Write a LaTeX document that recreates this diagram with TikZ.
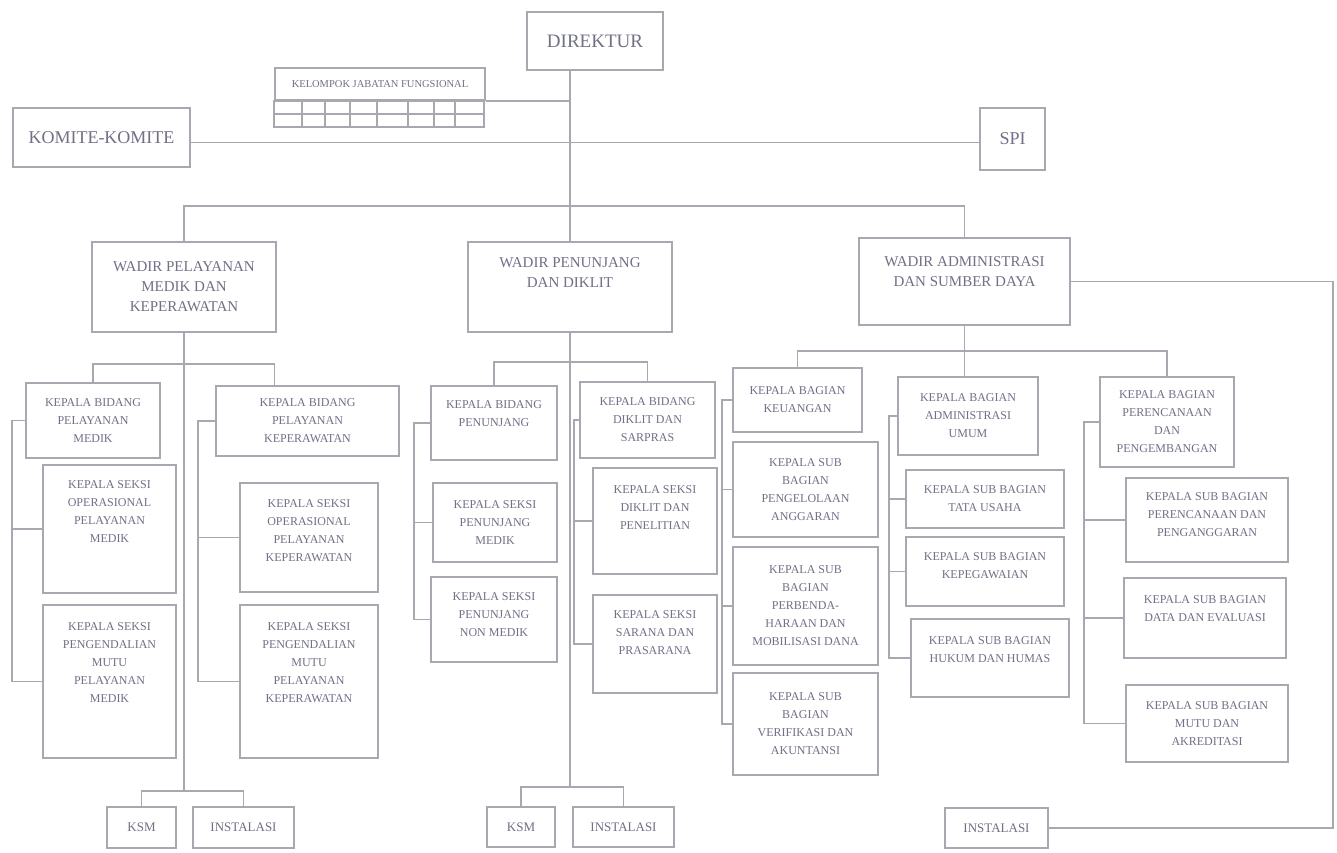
\documentclass[tikz,border=0pt]{standalone}
\usepackage{fontspec}
\setmainfont{Liberation Serif}
\usepackage{tikz}

\definecolor{linegray}{RGB}{168,168,176}
\definecolor{textgray}{RGB}{112,112,134}

\begin{document}
\begin{tikzpicture}[x=1pt, y=-1pt, line width=1.6pt, color=linegray,
  box/.style={draw=linegray, text=textgray, align=center, inner sep=2pt, font=\fontsize{12}{18}\selectfont},
  wadir/.style={box, font=\fontsize{15}{20}\selectfont},
  big/.style={box, font=\fontsize{18}{22}\selectfont},
  unit/.style={box, font=\fontsize{13}{16}\selectfont},
  lifted/.style={text depth=#1}]

\path[fill=white] (0,0) rectangle (1337,852);
\useasboundingbox (0,0) rectangle (1337,852);

% top level
\node[big, font=\fontsize{19}{22}\selectfont, minimum width=136, minimum height=58] (dir) at (595,41) {DIREKTUR};
\node[box, font=\fontsize{10.5}{12}\selectfont, minimum width=210, minimum height=32] (kjf) at (380,84) {KELOMPOK JABATAN FUNGSIONAL};
\node[big, minimum width=177, minimum height=59] (komite) at (101.5,137.5) {KOMITE-KOMITE};
\node[big, minimum width=65, minimum height=62] (spi) at (1012.5,139) {SPI};

% table cells under jabatan fungsional
\draw (kjf.south west) rectangle ++(210,26);
\draw ([yshift=-13pt]kjf.south west) -- ++(210,0);
\foreach \cx in {28,51,76,103,134,160,181}
  \draw ([xshift=\cx pt]kjf.south west) -- ++(0,26);

% wakil direktur
\node[wadir, minimum width=184, minimum height=90] (wpm) at (184,287) {WADIR PELAYANAN\\MEDIK DAN\\KEPERAWATAN};
\node[wadir, minimum width=204, minimum height=90, lifted=28pt] (wpd) at (570,287) {WADIR PENUNJANG\\DAN DIKLIT};
\node[wadir, minimum width=211, minimum height=87, lifted=20pt] (wks) at (964.5,281.5) {WADIR ADMINISTRASI\\DAN SUMBER DAYA};

% pelayanan medik dan keperawatan
\node[box, minimum width=134, minimum height=75] (kbpm) at (93,420.5) {KEPALA BIDANG\\PELAYANAN\\MEDIK};
\node[box, minimum width=183, minimum height=70] (kbpk) at (307.5,421) {KEPALA BIDANG\\PELAYANAN\\KEPERAWATAN};
\node[box, minimum width=133, minimum height=128, lifted=34pt] (kso1) at (109.5,529) {KEPALA SEKSI\\OPERASIONAL\\PELAYANAN\\MEDIK};
\node[box, minimum width=133, minimum height=153, lifted=38pt] (ksmu1) at (109.5,681.5) {KEPALA SEKSI\\PENGENDALIAN\\MUTU\\PELAYANAN\\MEDIK};
\node[box, minimum width=138, minimum height=109, lifted=14pt] (kso2) at (309,537.5) {KEPALA SEKSI\\OPERASIONAL\\PELAYANAN\\KEPERAWATAN};
\node[box, minimum width=138, minimum height=153, lifted=38pt] (ksmu2) at (309,681.5) {KEPALA SEKSI\\PENGENDALIAN\\MUTU\\PELAYANAN\\KEPERAWATAN};
\node[unit, minimum width=69, minimum height=41] (ksm1) at (141.5,827.5) {KSM};
\node[unit, minimum width=101, minimum height=41] (ins1) at (243.5,827.5) {INSTALASI};

% penunjang dan diklit
\node[box, minimum width=126, minimum height=74, lifted=18pt] (kbpn) at (494,423) {KEPALA BIDANG\\PENUNJANG};
\node[box, minimum width=135, minimum height=76] (kbdk) at (647.5,420) {KEPALA BIDANG\\DIKLIT DAN\\SARPRAS};
\node[box, minimum width=124, minimum height=79] (kspm) at (495,522.5) {KEPALA SEKSI\\PENUNJANG\\MEDIK};
\node[box, minimum width=126, minimum height=85, lifted=10pt] (kspn) at (494,619.5) {KEPALA SEKSI\\PENUNJANG\\NON MEDIK};
\node[box, minimum width=124, minimum height=106, lifted=26pt] (ksdp) at (655,521) {KEPALA SEKSI\\DIKLIT DAN\\PENELITIAN};
\node[box, minimum width=124, minimum height=98, lifted=22pt] (kssp) at (655,644) {KEPALA SEKSI\\SARANA DAN\\PRASARANA};
\node[unit, minimum width=68, minimum height=40] (ksm2) at (521,827) {KSM};
\node[unit, minimum width=101, minimum height=40] (ins2) at (623.5,827) {INSTALASI};

% administrasi dan sumber daya
\node[box, minimum width=129, minimum height=64] (kbku) at (797.5,400) {KEPALA BAGIAN\\KEUANGAN};
\node[box, minimum width=140, minimum height=78] (kbum) at (968,416) {KEPALA BAGIAN\\ADMINISTRASI\\UMUM};
\node[box, minimum width=134, minimum height=90] (kbpp) at (1167,422) {KEPALA BAGIAN\\PERENCANAAN\\DAN\\PENGEMBANGAN};
\node[box, minimum width=145, minimum height=95] (ksb1) at (805.5,489.5) {KEPALA SUB\\BAGIAN\\PENGELOLAAN\\ANGGARAN};
\node[box, minimum width=145, minimum height=118] (ksb2) at (805.5,606) {KEPALA SUB\\BAGIAN\\PERBENDA-\\HARAAN DAN\\MOBILISASI DANA};
\node[box, minimum width=145, minimum height=102] (ksb3) at (805.5,724) {KEPALA SUB\\BAGIAN\\VERIFIKASI DAN\\AKUNTANSI};
\node[box, minimum width=158, minimum height=58] (ksu1) at (985,499) {KEPALA SUB BAGIAN\\TATA USAHA};
\node[box, minimum width=158, minimum height=69, lifted=12pt] (ksu2) at (985,571.5) {KEPALA SUB BAGIAN\\KEPEGAWAIAN};
\node[box, minimum width=158, minimum height=78, lifted=16pt] (ksu3) at (990,658) {KEPALA SUB BAGIAN\\HUKUM DAN HUMAS};
\node[box, minimum width=162, minimum height=84, lifted=10pt] (ksp1) at (1207,520) {KEPALA SUB BAGIAN\\PERENCANAAN DAN\\PENGANGGARAN};
\node[box, minimum width=162, minimum height=80, lifted=18pt] (ksp2) at (1205,618) {KEPALA SUB BAGIAN\\DATA DAN EVALUASI};
\node[box, minimum width=162, minimum height=77] (ksp3) at (1207,723.5) {KEPALA SUB BAGIAN\\MUTU DAN\\AKREDITASI};
\node[unit, minimum width=103, minimum height=40] (ins3) at (996.5,828) {INSTALASI};

% lines of command
\draw (dir.south -| wpd.north) -- (wpd.north);
\draw (kjf.south east) -- (kjf.south east -| wpd.north);
\draw ([yshift=-5pt]komite.east) -- ([yshift=-5pt]komite.east -| spi.west);
\draw (wpm.north) -- ++(0,-35) -| (wks.north);
\draw (wks.east) -- ++(262,0) |- (ins3.east);

% left branch
\draw (wpm.south) -- ([yshift=15pt]wpm.south |- ksm1.north);
\draw (ksm1.north) -- ++(0,-15) -| (ins1.north);
\draw (kbpm.north) -- ++(0,-18) -| ([xshift=-33pt]kbpk.north);
\draw (kbpm.west) -- ++(-13,0) coordinate (l1) |- (kso1.west);
\draw (l1) |- (ksmu1.west);
\draw (kbpk.west) -- ++(-17,0) coordinate (l2) |- (kso2.west);
\draw (l2) |- (ksmu2.west);

% middle branch
\draw (wpd.south) -- ([yshift=19pt]wpd.south |- ksm2.north);
\draw (ksm2.north) -- ++(0,-19) -| (ins2.north);
\draw (kbpn.north) -- ++(0,-23) -| (kbdk.north);
\draw (kbpn.west) -- ++(-16,0) coordinate (l3) |- (kspm.west);
\draw (l3) |- (kspn.west);
\draw (kbdk.west) -- ++(-5,0) coordinate (l4) |- (ksdp.west);
\draw (l4) |- (kssp.west);

% right branch
\draw (wks.south) -- (wks.south |- kbum.north);
\draw (kbku.north) -- ++(0,-16) -| (kbpp.north);
\draw (kbku.west) -- ++(-10,0) coordinate (l5) |- (ksb1.west);
\draw (l5) |- (ksb2.west);
\draw (l5) |- (ksb3.west);
\draw (kbum.west) -- ++(-8,0) coordinate (l6) |- (ksu1.west);
\draw (l6) |- (ksu2.west);
\draw (l6) |- (ksu3.west);
\draw (kbpp.west) -- ++(-15,0) coordinate (l7) |- (ksp1.west);
\draw (l7) |- (ksp2.west);
\draw (l7) |- (ksp3.west);

\end{tikzpicture}
\end{document}
